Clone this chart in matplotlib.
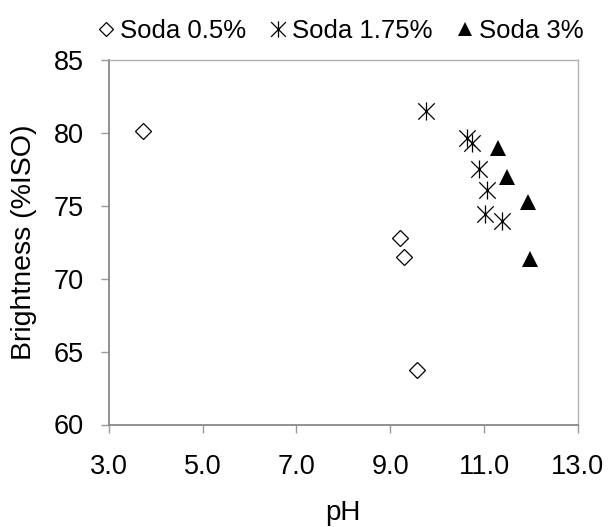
import matplotlib
matplotlib.use("Agg")
import matplotlib.pyplot as plt
from matplotlib.path import Path

plt.rcParams['font.family'] = ['Liberation Sans', 'DejaVu Sans']

# Brightness vs pH for three soda charges
ph_05 = [3.73, 9.21, 9.29, 9.57]
br_05 = [80.13, 72.77, 71.51, 63.74]

ph_175 = [9.76, 10.63, 10.74, 10.90, 11.07, 11.02, 11.38]
br_175 = [81.50, 79.63, 79.33, 77.52, 76.08, 74.42, 73.98]

ph_3 = [11.29, 11.49, 11.95, 11.98]
br_3 = [78.94, 76.95, 75.28, 71.32]

series_labels = ["Soda 0.5%", "Soda 1.75%", "Soda 3%"]
x_ticks = [3.0, 5.0, 7.0, 9.0, 11.0, 13.0]
y_ticks = [60, 65, 70, 75, 80, 85]

# asterisk marker: an X with a vertical stroke
asterisk = Path(
    [(-0.5, -0.5), (0.5, 0.5), (-0.5, 0.5), (0.5, -0.5), (0, -0.55), (0, 0.55)],
    [Path.MOVETO, Path.LINETO, Path.MOVETO, Path.LINETO, Path.MOVETO, Path.LINETO],
)

fig = plt.figure(figsize=(6.11, 5.27), dpi=100)
ax = fig.add_axes([109 / 611, 1 - 424.5 / 527, (577.7 - 109) / 611, (424.5 - 60) / 527])

ax.plot(ph_05, br_05, linestyle='none', marker='D', markersize=7.9,
        markerfacecolor='white', markeredgecolor='black', markeredgewidth=0.9,
        label=series_labels[0])
ax.plot(ph_175, br_175, linestyle='none', marker=asterisk, markersize=13,
        color='black', markeredgewidth=0.9, label=series_labels[1])
ax.plot(ph_3, br_3, linestyle='none', marker='^', markersize=11.5,
        color='black', markeredgewidth=0, label=series_labels[2])

ax.set_xlim(3, 13)
ax.set_ylim(60, 85)
ax.set_xticks(x_ticks)
ax.set_xticklabels([f"{v:.1f}" for v in x_ticks])
ax.set_yticks(y_ticks)
ax.set_yticklabels([str(v) for v in y_ticks])

for side in ('left', 'bottom'):
    ax.spines[side].set_color('#888888')
    ax.spines[side].set_linewidth(1.3)
for side in ('top', 'right'):
    ax.spines[side].set_color('#b0b0b0')
    ax.spines[side].set_linewidth(1.0)

ax.tick_params(axis='both', direction='out', length=6, width=1.0,
               color='#999999', labelsize=19.5, labelcolor='black')
ax.tick_params(axis='x', pad=15)
ax.tick_params(axis='y', pad=12)

ax.set_xlabel("pH", fontsize=20, labelpad=15)
ax.set_ylabel("Brightness (%ISO)", fontsize=20.5)
ax.yaxis.set_label_coords(-0.154, 0.5)

fig.legend(loc='center', bbox_to_anchor=(340 / 611, 1 - 31 / 527), ncol=3,
           frameon=False, fontsize=18.5, handlelength=0.7, handletextpad=0.2,
           columnspacing=0.9, borderpad=0, markerscale=0.9)

fig.savefig("out.png", dpi=100)
